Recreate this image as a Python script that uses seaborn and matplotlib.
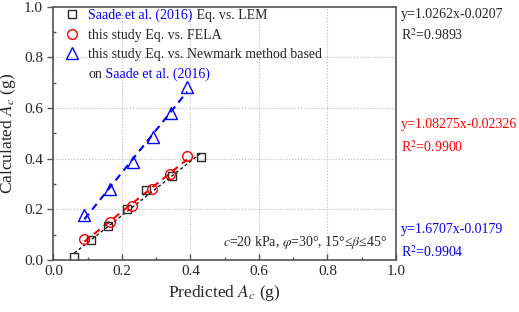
import numpy as np
import matplotlib
matplotlib.use("Agg")
import matplotlib.pyplot as plt
from matplotlib.lines import Line2D
import seaborn as sns

# data
lem_x = [0.061, 0.111, 0.160, 0.215, 0.271, 0.346, 0.431]
lem_y = [0.012, 0.079, 0.134, 0.200, 0.277, 0.330, 0.406]
fela_x = [0.090, 0.166, 0.230, 0.289, 0.341, 0.390]
fela_y = [0.083, 0.150, 0.213, 0.280, 0.340, 0.410]
nm_x = [0.090, 0.166, 0.233, 0.290, 0.343, 0.390]
nm_y = [0.178, 0.280, 0.387, 0.486, 0.582, 0.684]

eq_lem = ["y=1.0262x-0.0207", "R$^2$=0.9893"]
eq_fela = ["y=1.08275x-0.02326", "R$^2$=0.9900"]
eq_nm = ["y=1.6707x-0.0179", "R$^2$=0.9904"]

BLUE = "#0000ff"
RED = "#ff0000"
DARK = "#2a2a2a"

sns.set_style("ticks")
plt.rcParams["font.family"] = ["Liberation Serif", "DejaVu Serif"]
plt.rcParams["mathtext.fontset"] = "stix"

fig = plt.figure(figsize=(5.19, 3.12), dpi=100)
ax = fig.add_axes([0.103, 0.167, 0.660, 0.811])

# fitted lines
sns.regplot(x=lem_x, y=lem_y, scatter=False, ci=None, ax=ax,
            line_kws=dict(color="black", lw=0.9, ls=(0, (2.5, 2))))
sns.regplot(x=fela_x, y=fela_y, scatter=False, ci=None, ax=ax,
            line_kws=dict(color=RED, lw=1.5, ls=(0, (3.5, 2.5))))
sns.regplot(x=nm_x, y=nm_y, scatter=False, ci=None, ax=ax,
            line_kws=dict(color=BLUE, lw=1.5, ls=(0, (3.5, 2.5))))

# markers
mk = dict(sq=dict(marker="s", ms=6, mfc="none", mec=DARK, mew=1.0),
          ci=dict(marker="o", ms=7, mfc="none", mec=RED, mew=1.0),
          tr=dict(marker="^", ms=8, mfc="none", mec=BLUE, mew=1.0))
sns.lineplot(x=lem_x, y=lem_y, ax=ax, estimator=None, ls="", **mk["sq"])
sns.lineplot(x=fela_x, y=fela_y, ax=ax, estimator=None, ls="", **mk["ci"])
sns.lineplot(x=nm_x, y=nm_y, ax=ax, estimator=None, ls="", **mk["tr"])

ax.set_xlim(0, 1)
ax.set_ylim(0, 1)
ticks = np.arange(0, 1.01, 0.2)
ax.set_xticks(ticks)
ax.set_yticks(ticks)
ax.set_xticks(np.arange(0.1, 1, 0.2), minor=True)
ax.set_yticks(np.arange(0.1, 1, 0.2), minor=True)
ax.tick_params(axis="x", which="both", direction="in", color="#555555")
ax.tick_params(axis="y", which="major", direction="out", color="#555555")
ax.tick_params(axis="y", which="minor", direction="in", color="#555555")
ax.tick_params(which="major", length=4, width=1, labelsize=11)
ax.tick_params(which="minor", length=2.5, width=1)
ax.grid(True, which="major", ls=":", color="#bbbbbb", lw=0.8)
for s in ax.spines.values():
    s.set_visible(True)
    s.set_color("#555555")
    s.set_linewidth(1.2)

ax.set_xlabel("Predicted $A_c$ (g)", fontsize=12.5, labelpad=4)
ax.set_ylabel("Calculated $A_c$ (g)", fontsize=12.5, labelpad=4)

# legend
handles = [Line2D([], [], ls="", **mk[k]) for k in ("sq", "ci", "tr")]
labels = ["Saade et al. (2016)", "this study Eq. vs. FELA",
          "this study Eq. vs. Newmark method based"]
leg = ax.legend(handles, labels, loc="upper left", bbox_to_anchor=(0.0, 1.03),
                frameon=False, fontsize=10, handlelength=1.2, handletextpad=0.6,
                labelspacing=0.45, borderaxespad=0.3)
t = leg.get_texts()
t[0].set_color(BLUE)

# pieces of legend text in other colours, placed after a first draw
fig.canvas.draw()
r = fig.canvas.get_renderer()
b0 = t[0].get_window_extent(r)
b2 = t[2].get_window_extent(r)
ax.annotate(" Eq. vs. LEM", xy=(b0.x1, b0.y0), xycoords="figure pixels",
            va="bottom", ha="left", fontsize=10)
on = ax.annotate("on", xy=(b2.x0, b2.y0 - 20), xycoords="figure pixels",
                 va="bottom", ha="left", fontsize=10)
fig.canvas.draw()
bo = on.get_window_extent(r)
ax.annotate(" Saade et al. (2016)", xy=(bo.x1, bo.y0), xycoords="figure pixels",
            va="bottom", ha="left", fontsize=10, color=BLUE)

ax.text(0.975, 0.035, r"$c$=20 kPa, $\varphi$=30°, 15°≤$\beta$≤45°",
        transform=ax.transAxes, ha="right", va="bottom", fontsize=10)

# fit equations on the right
fx = 0.773
fig.text(fx, 0.952, eq_lem[0], fontsize=10, va="center")
fig.text(fx, 0.888, eq_lem[1], fontsize=10, va="center")
fig.text(fx, 0.600, eq_fela[0], fontsize=10, va="center", color=RED)
fig.text(fx, 0.528, eq_fela[1], fontsize=10, va="center", color=RED)
fig.text(fx, 0.263, eq_nm[0], fontsize=10, va="center", color=BLUE)
fig.text(fx, 0.192, eq_nm[1], fontsize=10, va="center", color=BLUE)

fig.savefig("out.png", dpi=100)
